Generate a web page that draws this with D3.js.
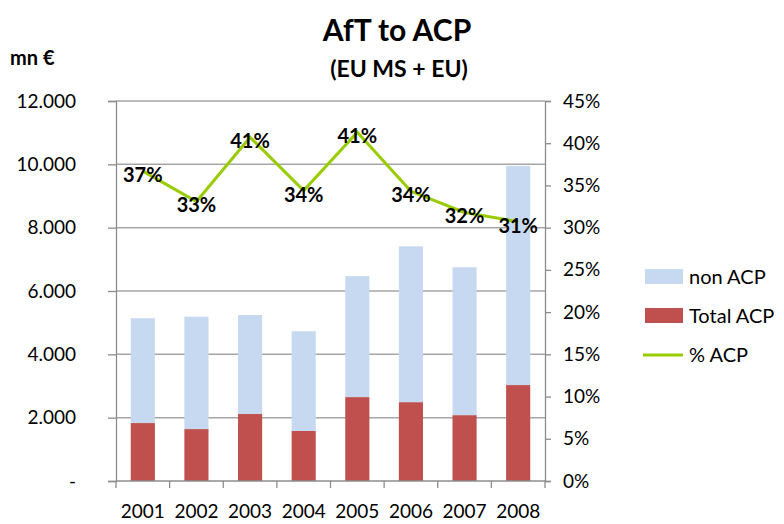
<!DOCTYPE html>
<html>
<head>
<meta charset="utf-8">
<script src="https://cdn.jsdelivr.net/npm/d3@7"></script>
<style>
	body { margin: 0; background: #fff; }
	svg { display: block; font-family: Lato, "Open Sans", sans-serif; }
</style>
</head>
<body>
<svg id="svg-port" width="784" height="524"></svg>
<script>
// values (mn €)
var years = ['2001', '2002', '2003', '2004', '2005', '2006', '2007', '2008'];
var totalACP = [1830, 1640, 2115, 1580, 2650, 2490, 2080, 3030];
var nonACP = [3310, 3550, 3125, 3150, 3820, 4920, 4670, 6920];
var pctACP = [36.7, 33.1, 40.7, 34.4, 41.3, 34.3, 31.8, 30.7];
var pctLabels = ['37%', '33%', '41%', '34%', '41%', '34%', '32%', '31%'];
var leftTicks = [0, 2000, 4000, 6000, 8000, 10000, 12000];
var rightTicks = [0, 5, 10, 15, 20, 25, 30, 35, 40, 45];

var colors = {
	nonACP: '#c6d9f1',
	totalACP: '#c0504d',
	pct: '#99cc00',
	grid: '#a6a6a6',
	axis: '#8c8c8c'
};

var svg = d3.select('#svg-port');
var plot = { left: 116, right: 545, top: 101, bottom: 481 };

var x = d3.scaleBand()
	.domain(years)
	.range([plot.left, plot.right])
	.paddingInner(0.55)
	.paddingOuter(0.275);

var y = d3.scaleLinear().domain([0, 12000]).range([plot.bottom, plot.top]);
var y2 = d3.scaleLinear().domain([0, 45]).range([plot.bottom, plot.top]);

function fmtLeft(v) {
	if (v === 0) return '-';
	return d3.format(',')(v).replace(/,/g, '.');
}

// gridlines
svg.append('g')
	.attr('class', 'grid')
	.selectAll('line')
	.data(leftTicks.filter(function (t) { return t > 0; }))
	.enter().append('line')
	.attr('x1', plot.left)
	.attr('x2', plot.right)
	.attr('y1', function (d) { return y(d); })
	.attr('y2', function (d) { return y(d); })
	.attr('stroke', colors.grid)
	.attr('stroke-width', 1.5);

// stacked bars
var stackData = years.map(function (yr, i) {
	return { year: yr, total: totalACP[i], non: nonACP[i] };
});
var series = d3.stack().keys(['total', 'non'])(stackData);
var fills = { total: colors.totalACP, non: colors.nonACP };

svg.append('g')
	.attr('class', 'bars')
	.selectAll('g')
	.data(series)
	.enter().append('g')
	.attr('fill', function (s) { return fills[s.key]; })
	.selectAll('rect')
	.data(function (s) { return s; })
	.enter().append('rect')
	.attr('x', function (d) { return x(d.data.year); })
	.attr('width', x.bandwidth())
	.attr('y', function (d) { return y(d[1]); })
	.attr('height', function (d) { return y(d[0]) - y(d[1]); });

// left axis
var leftAxis = svg.append('g')
	.attr('transform', 'translate(' + plot.left + ',0)')
	.call(d3.axisLeft(y).tickValues(leftTicks).tickFormat(fmtLeft).tickSize(8).tickPadding(32));
leftAxis.select('.domain').attr('stroke', colors.axis).attr('stroke-width', 1.3);
leftAxis.selectAll('.tick line').attr('stroke', colors.axis).attr('stroke-width', 1.3);
leftAxis.selectAll('.tick text')
	.attr('font-family', 'Lato, sans-serif')
	.attr('font-size', 19)
	.attr('fill', '#000');

// right axis
var rightAxis = svg.append('g')
	.attr('transform', 'translate(' + plot.right + ',0)')
	.call(d3.axisRight(y2).tickValues(rightTicks).tickFormat(function (d) { return d + '%'; }).tickSize(6).tickPadding(12));
rightAxis.select('.domain').attr('stroke', colors.axis).attr('stroke-width', 1.3);
rightAxis.selectAll('.tick line').attr('stroke', colors.axis).attr('stroke-width', 1.3);
rightAxis.selectAll('.tick text')
	.attr('font-family', 'Lato, sans-serif')
	.attr('font-size', 19)
	.attr('fill', '#000');

// bottom axis: ticks sit on the category boundaries
var bottom = svg.append('g').attr('class', 'x-axis');
bottom.append('line')
	.attr('x1', plot.left).attr('x2', plot.right)
	.attr('y1', plot.bottom).attr('y2', plot.bottom)
	.attr('stroke', colors.axis).attr('stroke-width', 1.5);
var bounds = years.map(function (yr) { return x(yr) - x.step() * x.paddingInner() / 2; });
bounds.push(plot.right);
bottom.selectAll('line.tick')
	.data(bounds)
	.enter().append('line')
	.attr('class', 'tick')
	.attr('x1', function (d) { return d; })
	.attr('x2', function (d) { return d; })
	.attr('y1', plot.bottom)
	.attr('y2', plot.bottom + 7)
	.attr('stroke', colors.axis)
	.attr('stroke-width', 1.3);
bottom.selectAll('text')
	.data(years)
	.enter().append('text')
	.attr('x', function (d) { return x(d) + x.bandwidth() / 2; })
	.attr('y', 518)
	.attr('text-anchor', 'middle')
	.attr('font-size', 19)
	.attr('fill', '#000')
	.text(function (d) { return d; });

// % ACP line
var line = d3.line()
	.x(function (d, i) { return x(years[i]) + x.bandwidth() / 2; })
	.y(function (d) { return y2(d); });

svg.append('path')
	.datum(pctACP)
	.attr('d', line)
	.attr('fill', 'none')
	.attr('stroke', colors.pct)
	.attr('stroke-width', 3);

svg.append('g')
	.attr('class', 'pct-labels')
	.selectAll('text')
	.data(pctACP)
	.enter().append('text')
	.attr('x', function (d, i) { return x(years[i]) + x.bandwidth() / 2; })
	.attr('y', function (d) { return y2(d) + 11; })
	.attr('text-anchor', 'middle')
	.attr('font-size', 20)
	.attr('font-weight', 'bold')
	.attr('fill', '#000')
	.text(function (d, i) { return pctLabels[i]; });

// titles
svg.append('text')
	.attr('x', 397).attr('y', 41)
	.attr('text-anchor', 'middle')
	.attr('font-size', 30)
	.attr('font-weight', 'bold')
	.text('AfT to ACP');
svg.append('text')
	.attr('x', 399).attr('y', 77)
	.attr('text-anchor', 'middle')
	.attr('font-size', 23)
	.attr('font-weight', 'bold')
	.text('(EU MS + EU)');
svg.append('text')
	.attr('x', 10).attr('y', 65)
	.attr('font-size', 20)
	.attr('font-weight', 'bold')
	.text('mn €');

// legend
var legendItems = [
	{ label: 'non ACP', type: 'rect', color: colors.nonACP },
	{ label: 'Total ACP', type: 'rect', color: colors.totalACP },
	{ label: '% ACP', type: 'line', color: colors.pct }
];
var legend = svg.append('g')
	.attr('class', 'legend')
	.selectAll('g')
	.data(legendItems)
	.enter().append('g')
	.attr('transform', function (d, i) { return 'translate(645,' + (277 + i * 39) + ')'; });
legend.filter(function (d) { return d.type === 'rect'; })
	.append('rect')
	.attr('x', 0).attr('y', -8)
	.attr('width', 38).attr('height', 15)
	.attr('fill', function (d) { return d.color; });
legend.filter(function (d) { return d.type === 'line'; })
	.append('line')
	.attr('x1', -2).attr('x2', 38)
	.attr('y1', 0).attr('y2', 0)
	.attr('stroke', function (d) { return d.color; })
	.attr('stroke-width', 3);
legend.append('text')
	.attr('x', 44).attr('y', 7)
	.attr('font-size', 20)
	.attr('fill', '#000')
	.text(function (d) { return d.label; });
</script>
</body>
</html>
